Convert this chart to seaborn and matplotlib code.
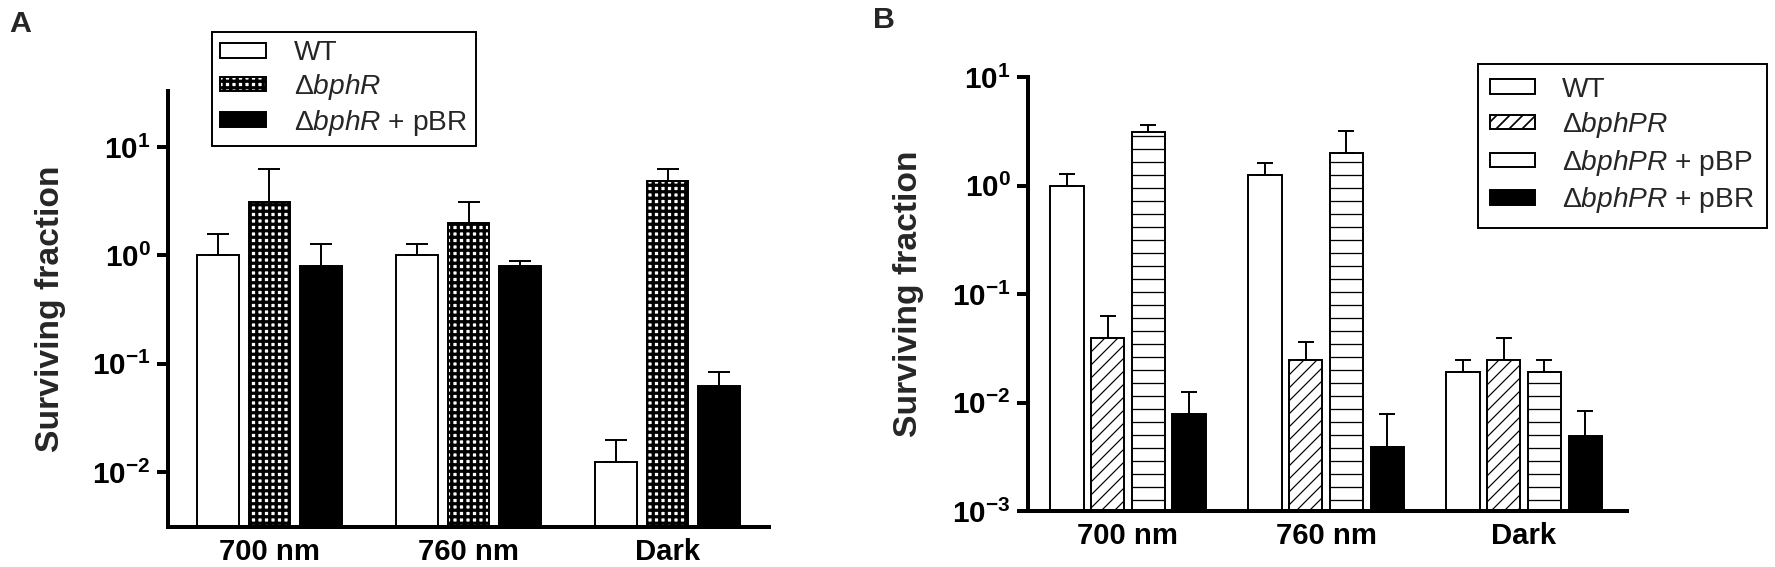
import numpy as np
import pandas as pd
import matplotlib
matplotlib.use("Agg")
import matplotlib.pyplot as plt
import seaborn as sns
from matplotlib.ticker import FixedLocator, FuncFormatter, NullLocator

# ---------------- data ----------------
conditions = ["700 nm", "760 nm", "Dark"]

strains_a = ["WT", "dbphR", "dbphR+pBR"]
labels_a = ["WT", r"Δ$\mathit{bphR}$", r"Δ$\mathit{bphR}$ + pBR"]
a_wt = [1.0, 1.0, 0.0124]
a_wt_err = [0.59, 0.26, 0.0073]
a_bphr = [3.1, 1.98, 4.9]
a_bphr_err = [3.2, 1.15, 1.4]
a_pbr = [0.79, 0.79, 0.062]
a_pbr_err = [0.47, 0.10, 0.022]

strains_b = ["WT", "dbphPR", "dbphPR+pBP", "dbphPR+pBR"]
labels_b = ["WT", r"Δ$\mathit{bphPR}$", r"Δ$\mathit{bphPR}$ + pBP", r"Δ$\mathit{bphPR}$ + pBR"]
b_wt = [1.0, 1.25, 0.0192]
b_wt_err = [0.27, 0.35, 0.0055]
b_bphpr = [0.0395, 0.0245, 0.0245]
b_bphpr_err = [0.0235, 0.0115, 0.0145]
b_pbp = [3.1, 1.98, 0.0192]
b_pbp_err = [0.5, 1.22, 0.0055]
b_pbr = [0.0078, 0.0039, 0.0049]
b_pbr_err = [0.0046, 0.0039, 0.0035]

ylabel = "Surviving fraction"

# ---------------- style ----------------
DPI = 78
W, H = 1775, 567
sns.set_theme(style="ticks")
plt.rcParams["font.family"] = ["Liberation Sans", "DejaVu Sans"]
plt.rcParams["mathtext.fontset"] = "custom"
plt.rcParams["mathtext.rm"] = "Liberation Sans"
plt.rcParams["mathtext.it"] = "Liberation Sans:italic"
plt.rcParams["mathtext.bf"] = "Liberation Sans:bold"
plt.rcParams["hatch.linewidth"] = 1.0

fig = plt.figure(figsize=(W / DPI, H / DPI), dpi=DPI)


def px_axes(l, t, r, b):
    return fig.add_axes([l / W, 1 - b / H, (r - l) / W, (b - t) / H])


def sup_fmt(v, pos):
    e = int(round(np.log10(v)))
    return r"$\mathbf{10^{%d}}$" % e


def draw_panel(ax, strains, labels, vals, errs, styles, width, gap, xlim,
               ylim, yticks, capsize, hatch_lws):
    rows = []
    for s, v in zip(strains, vals):
        for c, val in zip(conditions, v):
            rows.append({"condition": c, "strain": s, "value": val})
    df = pd.DataFrame(rows)
    sns.barplot(data=df, x="condition", y="value", hue="strain",
                order=conditions, hue_order=strains, width=width, gap=gap,
                errorbar=None, legend=False, saturation=1,
                palette=["white"] * len(strains), ax=ax)
    ax.set_yscale("log")
    bar_conts = list(ax.containers)
    handles = []
    for cont, (fc, hatch), hlw, v, e in zip(bar_conts, styles, hatch_lws, vals, errs):
        xs = []
        for p in cont.patches:
            p.set_facecolor(fc)
            p.set_edgecolor("black")
            p.set_linewidth(1.8)
            p.set_hatch(hatch)
            if hasattr(p, "set_hatch_linewidth"):
                p.set_hatch_linewidth(hlw)
            xs.append(p.get_x() + p.get_width() / 2)
        handles.append(cont.patches[0])
        ax.errorbar(xs, v, yerr=[np.zeros(len(v)), e], fmt="none",
                    ecolor="black", elinewidth=1.8, capsize=capsize,
                    capthick=1.8, zorder=1)
    ax.set_xlim(*xlim)
    ax.set_ylim(*ylim)
    ax.yaxis.set_major_locator(FixedLocator(yticks))
    ax.yaxis.set_major_formatter(FuncFormatter(sup_fmt))
    ax.yaxis.set_minor_locator(NullLocator())
    ax.set_xlabel("")
    ax.set_ylabel(ylabel, fontsize=31, fontweight="bold")
    for sp in ["top", "right"]:
        ax.spines[sp].set_visible(False)
    for sp in ["left", "bottom"]:
        ax.spines[sp].set_linewidth(3.7)
        ax.spines[sp].set_color("black")
    ax.tick_params(axis="y", length=10, width=3.7, pad=6, labelsize=27.5,
                   color="black", labelcolor="black")
    ax.tick_params(axis="x", length=0, pad=10, labelsize=27, labelcolor="black")
    for t in ax.get_xticklabels():
        t.set_fontweight("bold")
    ax.set_facecolor("white")
    return handles


def style_legend(leg, hatch_lws):
    leg.get_frame().set_linewidth(1.8)
    for p, hlw in zip(leg.get_patches(), hatch_lws):
        p.set_linewidth(1.8)
        if hasattr(p, "set_hatch_linewidth"):
            p.set_hatch_linewidth(hlw)


# ---------------- panel A ----------------
axA = px_axes(168, 91, 769, 527)
hA = draw_panel(axA, strains_a, labels_a, [a_wt, a_bphr, a_pbr],
                [a_wt_err, a_bphr_err, a_pbr_err],
                [("white", None), ("white", "++"), ("black", None)],
                width=0.777, gap=0.19, xlim=(-0.51, 2.51),
                ylim=(10 ** -2.508, 10 ** 1.517), yticks=[1e-2, 1e-1, 1e0, 1e1],
                capsize=9.7, hatch_lws=[1.0, 3.0, 1.0])
axA.yaxis.set_label_coords(-0.196, 0.5)
axA.yaxis.label.set_verticalalignment("center")
legA = axA.legend(hA, labels_a, loc="upper left",
                  bbox_to_anchor=(212 / W, 1 - 32 / H), bbox_transform=fig.transFigure,
                  fontsize=26, frameon=True, fancybox=False, framealpha=1,
                  edgecolor="black", handlelength=1.6, handleheight=0.43,
                  handletextpad=1.0, labelspacing=0.2, borderpad=0.3,
                  borderaxespad=0)
style_legend(legA, [1.0, 3.0, 1.0])

# ---------------- panel B ----------------
axB = px_axes(1028, 77, 1627, 511)
hB = draw_panel(axB, strains_b, labels_b, [b_wt, b_bphpr, b_pbp, b_pbr],
                [b_wt_err, b_bphpr_err, b_pbp_err, b_pbr_err],
                [("white", None), ("white", "//"), ("white", "-"), ("black", None)],
                width=0.822, gap=0.187, xlim=(-0.505, 2.52),
                ylim=(1e-3, 1e1), yticks=[1e-3, 1e-2, 1e-1, 1e0, 1e1],
                capsize=7.8, hatch_lws=[1.0, 1.1, 1.2, 1.0])
axB.yaxis.set_label_coords(-0.1987, 0.5)
axB.yaxis.label.set_verticalalignment("center")
legB = axB.legend(hB, labels_b, loc="upper right",
                  bbox_to_anchor=(1767 / W, 1 - 64 / H), bbox_transform=fig.transFigure,
                  fontsize=26, frameon=True, fancybox=False, framealpha=1,
                  edgecolor="black", handlelength=1.6, handleheight=0.4,
                  handletextpad=0.95, labelspacing=0.27, borderpad=0.45,
                  borderaxespad=0)
style_legend(legB, [1.0, 1.6, 1.2, 1.0])
legB.get_patches()[2].set_hatch(None)

# ---------------- panel letters ----------------
fig.text(9 / W, 1 - 10 / H, "A", fontsize=28, fontweight="bold", ha="left", va="top")
fig.text(873 / W, 1 - 6 / H, "B", fontsize=28, fontweight="bold", ha="left", va="top")

fig.savefig("out.png", dpi=DPI, facecolor="white")
